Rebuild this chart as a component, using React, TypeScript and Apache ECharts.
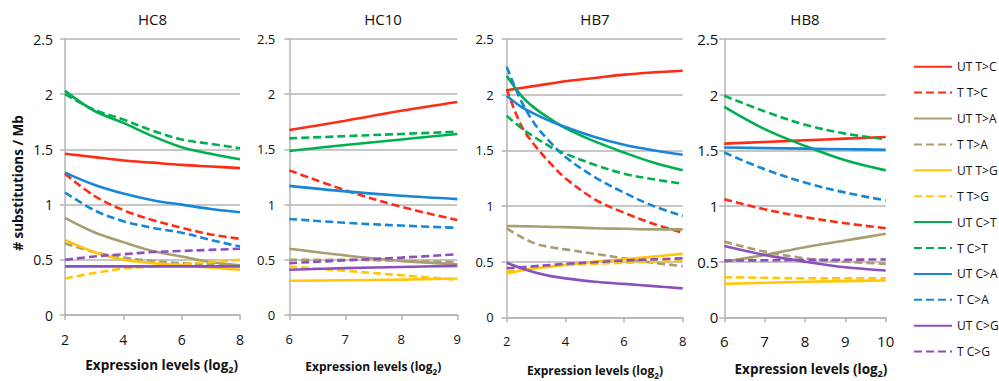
import React, { useEffect, useRef } from "react";
import * as echarts from "echarts";

// ---------- names & styling ----------
const SERIES_NAMES = [
  "UT T>C", "T T>C", "UT T>A", "T T>A", "UT T>G", "T T>G",
  "UT C>T", "T C>T", "UT C>A", "T C>A", "UT C>G", "T C>G",
];
const SERIES_COLORS = [
  "#FF2B14", "#FF2B14", "#A89E70", "#A89E70", "#FFC60A", "#FFC60A",
  "#00B050", "#00B050", "#1587D6", "#1587D6", "#8B50BD", "#8B50BD",
];
const PANEL_TITLES = ["HC8", "HC10", "HB7", "HB8"];
const Y_TICKS = [0, 0.5, 1, 1.5, 2, 2.5];

// ---------- HC8 ----------
const HC8_X = [2, 3, 4, 5, 6, 7, 8];
const HC8_UT_TC = [1.46, 1.43, 1.4, 1.38, 1.36, 1.345, 1.33];
const HC8_T_TC = [1.28, 1.08, 0.95, 0.86, 0.79, 0.73, 0.69];
const HC8_UT_TA = [0.88, 0.75, 0.66, 0.58, 0.53, 0.48, 0.45];
const HC8_T_TA = [0.65, 0.57, 0.52, 0.49, 0.47, 0.46, 0.45];
const HC8_UT_TG = [0.68, 0.57, 0.5, 0.47, 0.45, 0.43, 0.41];
const HC8_T_TG = [0.33, 0.38, 0.42, 0.44, 0.46, 0.48, 0.5];
const HC8_UT_CT = [2.03, 1.85, 1.74, 1.62, 1.52, 1.46, 1.41];
const HC8_T_CT = [2.0, 1.86, 1.77, 1.67, 1.59, 1.55, 1.51];
const HC8_UT_CA = [1.29, 1.18, 1.1, 1.04, 1.0, 0.96, 0.93];
const HC8_T_CA = [1.11, 0.95, 0.85, 0.79, 0.745, 0.68, 0.62];
const HC8_UT_CG = [0.44, 0.44, 0.44, 0.44, 0.44, 0.44, 0.44];
const HC8_T_CG = [0.5, 0.53, 0.55, 0.57, 0.58, 0.59, 0.6];

// ---------- HC10 ----------
const HC10_X = [6, 7, 8, 9];
const HC10_UT_TC = [1.675, 1.76, 1.85, 1.93];
const HC10_T_TC = [1.31, 1.13, 0.98, 0.86];
const HC10_UT_TA = [0.6, 0.54, 0.49, 0.46];
const HC10_T_TA = [0.5, 0.5, 0.49, 0.48];
const HC10_UT_TG = [0.31, 0.315, 0.32, 0.33];
const HC10_T_TG = [0.44, 0.4, 0.36, 0.32];
const HC10_UT_CT = [1.485, 1.54, 1.59, 1.64];
const HC10_T_CT = [1.6, 1.62, 1.64, 1.66];
const HC10_UT_CA = [1.17, 1.12, 1.08, 1.05];
const HC10_T_CA = [0.87, 0.835, 0.81, 0.79];
const HC10_UT_CG = [0.41, 0.425, 0.435, 0.445];
const HC10_T_CG = [0.47, 0.495, 0.52, 0.55];

// ---------- HB7 ----------
const HB7_X = [2, 2.5, 3, 3.5, 4, 5, 6, 7, 8];
const HB7_UT_TC = [2.04, 2.06, 2.08, 2.1, 2.12, 2.15, 2.18, 2.2, 2.215];
const HB7_T_TC = [2.05, 1.72, 1.53, 1.38, 1.25, 1.06, 0.94, 0.84, 0.76];
const HB7_UT_TA = [0.82, 0.818, 0.815, 0.812, 0.81, 0.8, 0.795, 0.79, 0.79];
const HB7_T_TA = [0.8, 0.72, 0.66, 0.63, 0.61, 0.57, 0.53, 0.49, 0.46];
const HB7_UT_TG = [0.39, 0.42, 0.44, 0.455, 0.47, 0.5, 0.52, 0.545, 0.57];
const HB7_T_TG = [0.41, 0.43, 0.45, 0.46, 0.47, 0.48, 0.49, 0.5, 0.51];
const HB7_UT_CT = [2.17, 1.99, 1.87, 1.78, 1.7, 1.58, 1.48, 1.39, 1.32];
const HB7_T_CT = [1.81, 1.7, 1.61, 1.53, 1.47, 1.37, 1.29, 1.24, 1.2];
const HB7_UT_CA = [1.99, 1.89, 1.82, 1.76, 1.71, 1.62, 1.55, 1.5, 1.46];
const HB7_T_CA = [2.25, 1.94, 1.72, 1.57, 1.44, 1.26, 1.12, 1.0, 0.91];
const HB7_UT_CG = [0.49, 0.44, 0.4, 0.37, 0.35, 0.32, 0.3, 0.28, 0.26];
const HB7_T_CG = [0.44, 0.45, 0.46, 0.47, 0.48, 0.495, 0.51, 0.52, 0.53];

// ---------- HB8 ----------
const HB8_X = [6, 7, 8, 9, 10];
const HB8_UT_TC = [1.56, 1.575, 1.59, 1.605, 1.62];
const HB8_T_TC = [1.06, 0.97, 0.9, 0.845, 0.8];
const HB8_UT_TA = [0.5, 0.56, 0.63, 0.69, 0.75];
const HB8_T_TA = [0.68, 0.59, 0.53, 0.5, 0.48];
const HB8_UT_TG = [0.3, 0.31, 0.32, 0.325, 0.33];
const HB8_T_TG = [0.36, 0.355, 0.35, 0.35, 0.35];
const HB8_UT_CT = [1.89, 1.69, 1.54, 1.41, 1.32];
const HB8_T_CT = [1.99, 1.85, 1.73, 1.65, 1.6];
const HB8_UT_CA = [1.525, 1.52, 1.515, 1.51, 1.505];
const HB8_T_CA = [1.48, 1.33, 1.21, 1.12, 1.05];
const HB8_UT_CG = [0.64, 0.56, 0.5, 0.45, 0.42];
const HB8_T_CG = [0.51, 0.512, 0.515, 0.517, 0.52];

const PANEL_X = [HC8_X, HC10_X, HB7_X, HB8_X];
const PANEL_X_RANGE = [
  [2, 8, 2],
  [6, 9, 1],
  [2, 8, 2],
  [6, 10, 1],
];
const PANEL_VALUES = [
  [HC8_UT_TC, HC8_T_TC, HC8_UT_TA, HC8_T_TA, HC8_UT_TG, HC8_T_TG, HC8_UT_CT, HC8_T_CT, HC8_UT_CA, HC8_T_CA, HC8_UT_CG, HC8_T_CG],
  [HC10_UT_TC, HC10_T_TC, HC10_UT_TA, HC10_T_TA, HC10_UT_TG, HC10_T_TG, HC10_UT_CT, HC10_T_CT, HC10_UT_CA, HC10_T_CA, HC10_UT_CG, HC10_T_CG],
  [HB7_UT_TC, HB7_T_TC, HB7_UT_TA, HB7_T_TA, HB7_UT_TG, HB7_T_TG, HB7_UT_CT, HB7_T_CT, HB7_UT_CA, HB7_T_CA, HB7_UT_CG, HB7_T_CG],
  [HB8_UT_TC, HB8_T_TC, HB8_UT_TA, HB8_T_TA, HB8_UT_TG, HB8_T_TG, HB8_UT_CT, HB8_T_CT, HB8_UT_CA, HB8_T_CA, HB8_UT_CG, HB8_T_CG],
];

// ---------- layout (pixels) ----------
const LAYOUT = [
  { left: 65, top: 39, width: 175, height: 276, tickFont: 14, yMargin: 12, xMargin: 17, titleX: 152.5, nameX: 161.7, nameY: 365, nameFont: 13.5 },
  { left: 289.3, top: 39, width: 168, height: 276, tickFont: 13, yMargin: 14, xMargin: 17, titleX: 383, nameX: 373.3, nameY: 366, nameFont: 12 },
  { left: 506.7, top: 39, width: 176, height: 278.3, tickFont: 13, yMargin: 13, xMargin: 17, titleX: 595, nameX: 595, nameY: 370, nameFont: 12 },
  { left: 724.3, top: 39, width: 161.4, height: 278.3, tickFont: 15, yMargin: 6, xMargin: 16, titleX: 805, nameX: 811, nameY: 369, nameFont: 13.5 },
];

const FONT = "'Open Sans', 'DejaVu Sans', sans-serif";
const GRID_COLOR = "#B4B4B4";

function buildOption() {
  const grid: any[] = [];
  const xAxis: any[] = [];
  const yAxis: any[] = [];
  const series: any[] = [];
  const graphic: any[] = [];

  LAYOUT.forEach((L, p) => {
    grid.push({ left: L.left, top: L.top, width: L.width, height: L.height, containLabel: false });
    const [xmin, xmax, xint] = PANEL_X_RANGE[p];
    xAxis.push({
      type: "value",
      gridIndex: p,
      min: xmin,
      max: xmax,
      interval: xint,
      axisLine: { show: true, onZero: false, lineStyle: { color: GRID_COLOR, width: 1.5 } },
      axisTick: { show: true, inside: false, length: 5, lineStyle: { color: GRID_COLOR, width: 1.5 } },
      splitLine: { show: false },
      axisLabel: { color: "#111", fontSize: L.tickFont, fontFamily: FONT, margin: L.xMargin },
    });
    yAxis.push({
      type: "value",
      gridIndex: p,
      min: Y_TICKS[0],
      max: Y_TICKS[Y_TICKS.length - 1],
      interval: 0.5,
      axisLine: { show: true, lineStyle: { color: GRID_COLOR, width: 1.5 } },
      axisTick: { show: true, inside: false, length: 5, lineStyle: { color: GRID_COLOR, width: 1.5 } },
      splitLine: { show: true, lineStyle: { color: GRID_COLOR, width: 1.5 } },
      axisLabel: { color: "#111", fontSize: L.tickFont, fontFamily: FONT, margin: L.yMargin, formatter: (v: number) => String(v) },
    });
    PANEL_VALUES[p].forEach((vals, s) => {
      series.push({
        name: SERIES_NAMES[s],
        type: "line",
        xAxisIndex: p,
        yAxisIndex: p,
        data: PANEL_X[p].map((x, i) => [x, vals[i]]),
        smooth: 0.35,
        symbol: "none",
        symbolSize: 0,
        showSymbol: false,
        color: SERIES_COLORS[s],
        lineStyle: { color: SERIES_COLORS[s], width: 2.6, type: s % 2 === 1 ? [8, 4] : "solid" },
        z: 2 + s / 100,
      });
    });
    graphic.push({
      type: "text",
      x: L.titleX,
      y: 18.5,
      style: { text: PANEL_TITLES[p], fontSize: 15, fontFamily: FONT, fill: "#111", textAlign: "center", textVerticalAlign: "middle" },
    });
    graphic.push({
      type: "text",
      x: L.nameX,
      y: L.nameY,
      style: {
        text: "Expression levels (log{sub|2})",
        fontSize: L.nameFont,
        fontWeight: "bold",
        fontFamily: FONT,
        fill: "#111",
        lineHeight: 18,
        textAlign: "center",
        textVerticalAlign: "middle",
        rich: {
          sub: { fontSize: L.nameFont * 0.68, fontWeight: "bold", fontFamily: FONT, fill: "#111", verticalAlign: "bottom", lineHeight: 12 },
        },
      },
    });
  });

  graphic.push({
    type: "text",
    x: 17.5,
    y: 183,
    rotation: Math.PI / 2,
    style: {
      text: "# substitutions / Mb",
      fontSize: 13.5,
      fontWeight: "bold",
      fontFamily: FONT,
      fill: "#111",
      textAlign: "center",
      textVerticalAlign: "middle",
    },
  });

  return {
    animation: false,
    backgroundColor: "#ffffff",
    grid,
    xAxis,
    yAxis,
    series,
    graphic,
    legend: {
      orient: "vertical",
      left: 913,
      top: 60.7,
      padding: 0,
      itemWidth: 38,
      itemHeight: 14,
      itemGap: 13.9,
      data: SERIES_NAMES,
      selectedMode: false,
      itemStyle: { opacity: 0 },
      textStyle: { fontSize: 12, fontFamily: FONT, color: "#111" },
    },
  };
}

export default function App() {
  const ref = useRef<HTMLDivElement>(null);
  useEffect(() => {
    if (!ref.current) return;
    const chart = echarts.init(ref.current, null, { renderer: "svg" });
    chart.setOption(buildOption() as any);
    return () => chart.dispose();
  }, []);
  return (
    <div
      ref={ref}
      style={{ position: "fixed", left: 0, top: 0, width: 999, height: 381, background: "#fff" }}
    />
  );
}
